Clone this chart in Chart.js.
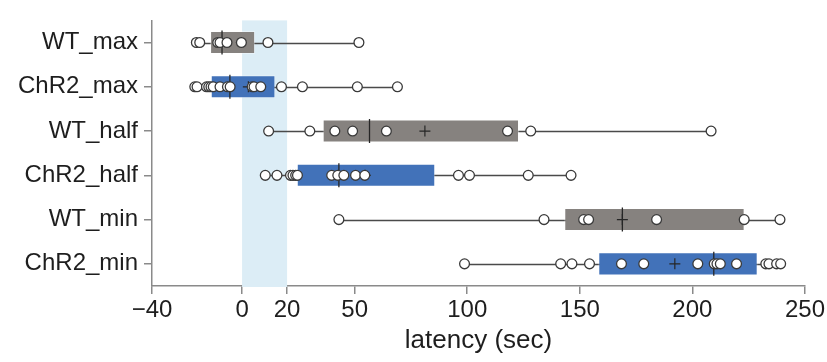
<!DOCTYPE html>
<html><head><meta charset="utf-8">
<script src="https://cdn.jsdelivr.net/npm/chart.js@4.4.1/dist/chart.umd.min.js"></script>
<style>html,body{margin:0;padding:0;background:#fff}</style>
</head><body>
<canvas id="c" width="827" height="362"></canvas>
<script>
// ---- data ----
const categories = ['WT_max', 'ChR2_max', 'WT_half', 'ChR2_half', 'WT_min', 'ChR2_min'];
const q1 = [-14.2, -13.9, 35.8, 24.3, 143.1, 158.2];
const q3 = [5.8, 14.8, 123.0, 85.8, 223.2, 229.0];
const medians = [-8.9, -5.4, 56.6, 43.0, 168.9, 209.5];
const means = [-0.3, 2.8, 81.2, 54.7, 168.9, 192.2];
const whiskerLow = [-20.3, -21.0, 11.8, 10.3, 43.0, 98.8];
const whiskerHigh = [51.9, 69.0, 208.3, 146.1, 238.9, 239.2];
const ptsWTmax = [-20.3, -18.8, -10.8, -9.8, -6.7, -0.3, 11.5, 51.9];
const ptsChR2max = [-21.0, -20.0, -15.8, -14.8, -13.8, -12.8, -9.8, -6.5, -5.3, 4.5, 5.3, 8.3, 17.5, 26.8, 51.2, 69.0];
const ptsWThalf = [11.8, 30.1, 41.2, 49.1, 64.1, 117.9, 128.2, 208.3];
const ptsChR2half = [10.3, 15.5, 21.5, 22.6, 23.8, 24.6, 39.8, 42.5, 45.2, 50.4, 54.5, 96.1, 101.0, 127.1, 146.1];
const ptsWTmin = [43.0, 134.1, 151.7, 153.9, 184.1, 223.0, 238.9];
const ptsChR2min = [98.8, 141.5, 146.5, 154.3, 168.5, 178.4, 202.4, 209.7, 210.9, 212.4, 219.6, 232.6, 234.0, 237.4, 239.2];
const pointGroups = [ptsWTmax, ptsChR2max, ptsWThalf, ptsChR2half, ptsWTmin, ptsChR2min];
const bandRange = [0, 20];
const xTickValues = [-40, 0, 20, 50, 100, 150, 200, 250];
const xMin = -40, xMax = 250;

// ---- styles ----
const GRAY = '#86827f', BLUE = '#4272b9';
const boxColors = categories.map(c => c.startsWith('WT') ? GRAY : BLUE);
const AXIS = '#8a8a8a';
const FONT = "'Liberation Sans', Arial, sans-serif";

const extras = {
  id: 'extras',
  beforeDatasetsDraw(chart) {
    const {ctx, chartArea, scales: {x, y}} = chart;
    ctx.save();
    const x0 = x.getPixelForValue(bandRange[0]), x1 = x.getPixelForValue(bandRange[1]);
    ctx.fillStyle = '#dcedf6';
    ctx.fillRect(x0, chartArea.top, x1 - x0, chartArea.bottom - chartArea.top + 1);
    ctx.strokeStyle = '#4a4a4a';
    ctx.lineWidth = 1.3;
    categories.forEach((c, i) => {
      const py = Math.round(y.getPixelForValue(i)) + 0.5;
      ctx.beginPath();
      ctx.moveTo(x.getPixelForValue(whiskerLow[i]), py);
      ctx.lineTo(x.getPixelForValue(whiskerHigh[i]), py);
      ctx.stroke();
    });
    ctx.restore();
  }
};

const allPoints = [];
pointGroups.forEach((g, i) => g.forEach(v => allPoints.push({x: v, y: categories[i]})));

new Chart(document.getElementById('c'), {
  type: 'bar',
  data: {
    labels: categories,
    datasets: [
      {
        type: 'bar',
        data: categories.map((c, i) => [q1[i], q3[i]]),
        backgroundColor: boxColors,
        borderColor: 'rgba(255,255,255,0.35)',
        borderWidth: 1,
        borderSkipped: false,
        barPercentage: 0.52,
        categoryPercentage: 1,
        order: 4
      },
      {
        type: 'scatter',
        data: medians.map((v, i) => ({x: v, y: categories[i]})),
        pointStyle: 'line',
        rotation: 90,
        radius: 12,
        borderColor: '#262626',
        borderWidth: 1.3,
        order: 3
      },
      {
        type: 'scatter',
        data: means.map((v, i) => ({x: v, y: categories[i]})),
        pointStyle: 'cross',
        radius: 5.5,
        borderColor: '#262626',
        borderWidth: 1.2,
        order: 2
      },
      {
        type: 'scatter',
        data: allPoints,
        pointStyle: 'circle',
        radius: 4.9,
        backgroundColor: '#ffffff',
        borderColor: '#3a3a3a',
        borderWidth: 1.3,
        order: 1
      }
    ]
  },
  plugins: [extras],
  options: {
    indexAxis: 'y',
    responsive: false,
    animation: false,
    devicePixelRatio: 1,
    events: [],
    layout: {padding: {top: 10, right: 22, left: 0, bottom: 0}},
    plugins: {legend: {display: false}, tooltip: {enabled: false}},
    scales: {
      x: {
        type: 'linear',
        min: xMin, max: xMax,
        afterBuildTicks: s => { s.ticks = xTickValues.map(v => ({value: v})); },
        afterFit: s => { s.height = 76; },
        grid: {drawOnChartArea: false, drawTicks: true, tickLength: 8, color: AXIS, lineWidth: 1.5},
        border: {display: true, color: AXIS, width: 1.5},
        ticks: {
          padding: 2,
          color: '#1e1e1e',
          font: {family: FONT, size: 24},
          maxRotation: 0,
          autoSkip: false,
          callback: v => v < 0 ? '\u2212' + Math.abs(v) : String(v)
        },
        title: {display: true, text: 'latency (sec)', color: '#1e1e1e', font: {family: FONT, size: 26}, padding: {top: 0, bottom: 6}}
      },
      y: {
        type: 'category',
        offset: true,
        afterFit: s => { s.width = 152; },
        grid: {drawOnChartArea: false, drawTicks: true, tickLength: 8, offset: false, color: AXIS, lineWidth: 1.5},
        border: {display: true, color: AXIS, width: 1.5},
        ticks: {padding: 6, color: '#1e1e1e', font: {family: FONT, size: 24}}
      }
    }
  }
});
</script>
</body></html>
